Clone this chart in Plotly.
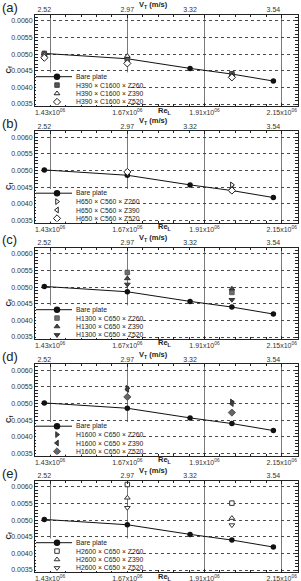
import numpy as np
import plotly.graph_objects as go

# ---------------- data ----------------
re_bare = [1.412e6, 1.670e6, 1.865e6, 1.995e6, 2.124e6]
cf_bare = [0.00502, 0.00486, 0.00457, 0.00440, 0.00419]

vt_labels = ["2.52", "2.97", "3.32", "3.54"]
vt_index = [0, 1, 2, 4]

re_ticks = [1.43e6, 1.67e6, 1.91e6, 2.15e6]
re_tick_labels = ["1.43x10<sup>06</sup>", "1.67x10<sup>06</sup>",
                  "1.91x10<sup>06</sup>", "2.15x10<sup>06</sup>"]
cf_ticks = [0.0035, 0.0040, 0.0045, 0.0050, 0.0055, 0.0060]

panel_letters = ["(a)", "(b)", "(c)", "(d)", "(e)"]

re_a = [1.412e6, 1.670e6, 1.995e6]
re_other = [1.670e6, 1.995e6]

names_a = ["H390 × C1600 × Z260", "H390 × C1600 × Z390", "H390 × C1600 × Z520"]
cf_a_z260 = [0.00502, 0.00484, 0.00441]
cf_a_z390 = [0.00497, 0.00494, 0.00436]
cf_a_z520 = [0.00489, 0.00472, 0.00430]

names_b = ["H650 × C560 × Z260", "H650 × C560 × Z390", "H650 × C560 × Z520"]
cf_b_z260 = [0.00495, 0.00457]
cf_b_z390 = [0.00493, 0.00444]
cf_b_z520 = [0.00496, 0.00440]

names_c = ["H1300 × C650 × Z260", "H1300 × C650 × Z390", "H1300 × C650 × Z520"]
cf_c_z260 = [0.00544, 0.00484]
cf_c_z390 = [0.00526, 0.00495]
cf_c_z520 = [0.00508, 0.00462]

names_d = ["H1600 × C650 × Z260", "H1600 × C650 × Z390", "H1600 × C650 × Z520"]
cf_d_z260 = [0.00546, 0.00505]
cf_d_z390 = [0.00543, 0.00500]
cf_d_z520 = [0.00520, 0.00473]

names_e = ["H2600 × C650 × Z260", "H2600 × C650 × Z390", "H2600 × C650 × Z520"]
cf_e_z260 = [0.00607, 0.00551]
cf_e_z390 = [0.00567, 0.00506]
cf_e_z520 = [0.00537, 0.00485]

panels = [
    (re_a, names_a, [cf_a_z260, cf_a_z390, cf_a_z520]),
    (re_other, names_b, [cf_b_z260, cf_b_z390, cf_b_z520]),
    (re_other, names_c, [cf_c_z260, cf_c_z390, cf_c_z520]),
    (re_other, names_d, [cf_d_z260, cf_d_z390, cf_d_z520]),
    (re_other, names_e, [cf_e_z260, cf_e_z390, cf_e_z520]),
]

# ---------------- styles ----------------
W, H = 301, 581
FONT = "Liberation Sans, Arial, sans-serif"
TXT = "#333333"
# (symbol, fill colour, outline colour); "-open" means white fill
styles = [
    [("square", "#555555", "#444444"), ("triangle-up-open", "#222222", "#222222"), ("diamond-open", "#222222", "#222222")],
    [("triangle-right-open", "#222222", "#222222"), ("triangle-left-open", "#222222", "#222222"), ("diamond-open", "#222222", "#222222")],
    [("square", "#6e6e6e", "#5a5a5a"), ("triangle-up", "#444444", "#333333"), ("triangle-down", "#444444", "#333333")],
    [("triangle-right", "#444444", "#333333"), ("triangle-left", "#444444", "#333333"), ("diamond", "#666666", "#555555")],
    [("square-open", "#333333", "#333333"), ("triangle-up-open", "#333333", "#333333"), ("triangle-down-open", "#333333", "#333333")],
]
sizes = {"square": 4.5, "square-open": 4.5, "diamond": 5.5, "diamond-open": 5.5}

XL, XR = 35.0, 297.5
PERIOD = 116.5
TOP0, BOT0 = 14.5, 106.0
x_range = [1.383e6, 2.199e6]
y_range = [0.00344, 0.00619]

minor_x = list(np.arange(1.382e6, 2.2e6, 0.048e6))
minor_y = list(np.arange(0.0035, 0.0062, 0.0001))


def py(px):
    return 1 - px / H


def marker_for(sym, fill, lc, size):
    if sym.endswith("-open"):
        return dict(symbol=sym.replace("-open", ""), size=size, color="white",
                    line=dict(color=lc, width=1))
    return dict(symbol=sym, size=size, color=fill, line=dict(color=lc, width=1))


hidden_axis = dict(visible=False, showticklabels=False, ticks="", showgrid=False,
                   showline=False, zeroline=False, fixedrange=True)

fig = go.Figure()
layout = dict(width=W, height=H, margin=dict(l=0, r=0, t=0, b=0),
              plot_bgcolor="white", paper_bgcolor="white", showlegend=False,
              font=dict(family=FONT, size=7, color=TXT))
annotations = []

for i, (re_x, names, series) in enumerate(panels):
    T = TOP0 + PERIOD * i
    B = BOT0 + PERIOD * i
    n = i + 1
    xa = "x" if n == 1 else f"x{n}"
    ya = "y" if n == 1 else f"y{n}"
    xt = f"x{5 + n}"       # top velocity axis
    xl = f"x{10 + n}"      # key axes
    yl = f"y{5 + n}"

    axis_common = dict(showline=True, linecolor="#222222", linewidth=1,
                       ticks="inside", ticklen=3, tickcolor="#222222",
                       showgrid=True, gridwidth=1, zeroline=False,
                       tickfont=dict(size=7, color=TXT, family=FONT))
    layout["xaxis" if n == 1 else f"xaxis{n}"] = dict(
        axis_common, domain=[XL / W, XR / W], range=x_range, anchor=ya,
        gridcolor="#7a7a7a", griddash="solid",
        tickmode="array", tickvals=re_ticks, ticktext=re_tick_labels,
        mirror="allticks",
        minor=dict(tickvals=minor_x, ticks="inside", ticklen=2,
                   tickcolor="#222222", showgrid=False))
    layout["yaxis" if n == 1 else f"yaxis{n}"] = dict(
        axis_common, domain=[py(B), py(T)], range=y_range, anchor=xa,
        gridcolor="#4a4a4a", griddash="dot",
        tickmode="array", tickvals=cf_ticks, tickformat=".4f",
        mirror="allticks",
        minor=dict(tickvals=minor_y, ticks="inside", ticklen=1.5,
                   tickcolor="#222222", showgrid=False))
    layout[f"xaxis{5 + n}"] = dict(
        overlaying=xa, anchor=ya, side="top", range=x_range,
        tickmode="array", tickvals=[re_bare[k] for k in vt_index],
        ticktext=vt_labels, ticks="", showgrid=False, showline=False,
        zeroline=False, tickfont=dict(size=7, color=TXT, family=FONT))
    # key axes (pixel units inside the key box)
    LX0, LX1 = XL + 1.0, 131.0
    LY0, LY1 = T + 58.0, B - 1.0
    kw, kh = LX1 - LX0, LY1 - LY0
    layout[f"xaxis{10 + n}"] = dict(hidden_axis, domain=[LX0 / W, LX1 / W],
                                    range=[0, kw], anchor=yl)
    layout[f"yaxis{5 + n}"] = dict(hidden_axis, domain=[py(LY1), py(LY0)],
                                   range=[kh, 0], anchor=xl)

    # invisible trace to carry the top axis
    fig.add_trace(go.Scatter(x=[re_bare[k] for k in vt_index],
                             y=[cf_bare[k] for k in vt_index],
                             xaxis=xt, yaxis=ya, mode="markers",
                             marker=dict(opacity=0), hoverinfo="skip"))

    # bare plate
    fig.add_trace(go.Scatter(x=re_bare, y=cf_bare, xaxis=xa, yaxis=ya,
                             mode="lines+markers", name="Bare plate",
                             line=dict(color="#111111", width=1),
                             marker=dict(symbol="circle", size=5.5, color="#111111")))
    # configurations
    for (sym, fill, lc), name, vals in zip(styles[i], names, series):
        fig.add_trace(go.Scatter(x=re_x, y=vals, xaxis=xa, yaxis=ya,
                                 mode="markers", name=name,
                                 marker=marker_for(sym, fill, lc, sizes.get(sym, 5))))

    # key: white background box
    fig.add_trace(go.Scatter(x=[0, kw, kw, 0, 0], y=[0, 0, kh, kh, 0],
                             xaxis=xl, yaxis=yl, mode="lines", fill="toself",
                             fillcolor="white", line=dict(width=0, color="white"),
                             hoverinfo="skip"))
    row_y = [4.2 + 8.4 * k for k in range(4)]
    mx = 21.0
    fig.add_trace(go.Scatter(x=[0, mx, 36.0], y=[row_y[0]] * 3, xaxis=xl, yaxis=yl,
                             mode="lines", line=dict(color="#111111", width=1),
                             hoverinfo="skip"))
    fig.add_trace(go.Scatter(x=[mx], y=[row_y[0]], xaxis=xl, yaxis=yl,
                             mode="markers", hoverinfo="skip",
                             marker=dict(symbol="circle", size=6.5, color="#111111")))
    for k, ((sym, fill, lc), name) in enumerate(zip(styles[i], names)):
        fig.add_trace(go.Scatter(x=[mx], y=[row_y[k + 1]], xaxis=xl, yaxis=yl,
                                 mode="markers", hoverinfo="skip",
                                 marker=marker_for(sym, fill, lc, sizes.get(sym, 5))))
    key_texts = ["Bare plate"] + names
    for k, t in enumerate(key_texts):
        annotations.append(dict(text=t, x=37.5, y=row_y[k], xref=xl, yref=yl,
                                xanchor="left", yanchor="middle", showarrow=False,
                                font=dict(size=6.8, color="#222222", family=FONT)))

    # titles and panel letter
    annotations.append(dict(text=panel_letters[i], x=0, y=py(T - 7.5), xref="paper",
                            yref="paper", xanchor="left", yanchor="middle",
                            showarrow=False, font=dict(size=13, color="#222222", family=FONT)))
    annotations.append(dict(text="<b>V<sub>T</sub> (m/s)</b>", x=153 / W, y=py(T - 9.5),
                            xref="paper", yref="paper", xanchor="center", yanchor="middle",
                            showarrow=False, font=dict(size=7.5, color="#222222", family=FONT)))
    annotations.append(dict(text="<b>Re<sub>L</sub></b>", x=165 / W, y=py(B + 4.5),
                            xref="paper", yref="paper", xanchor="center", yanchor="middle",
                            showarrow=False, font=dict(size=7.5, color="#222222", family=FONT)))
    annotations.append(dict(text="<b>C<sub>f</sub></b>", x=8.5 / W, y=py(T + 55.5),
                            xref="paper", yref="paper", xanchor="center", yanchor="middle",
                            textangle=-90, showarrow=False,
                            font=dict(size=7.5, color="#222222", family=FONT)))

layout["annotations"] = annotations
fig.update_layout(**layout)
fig.write_html("out.html")
